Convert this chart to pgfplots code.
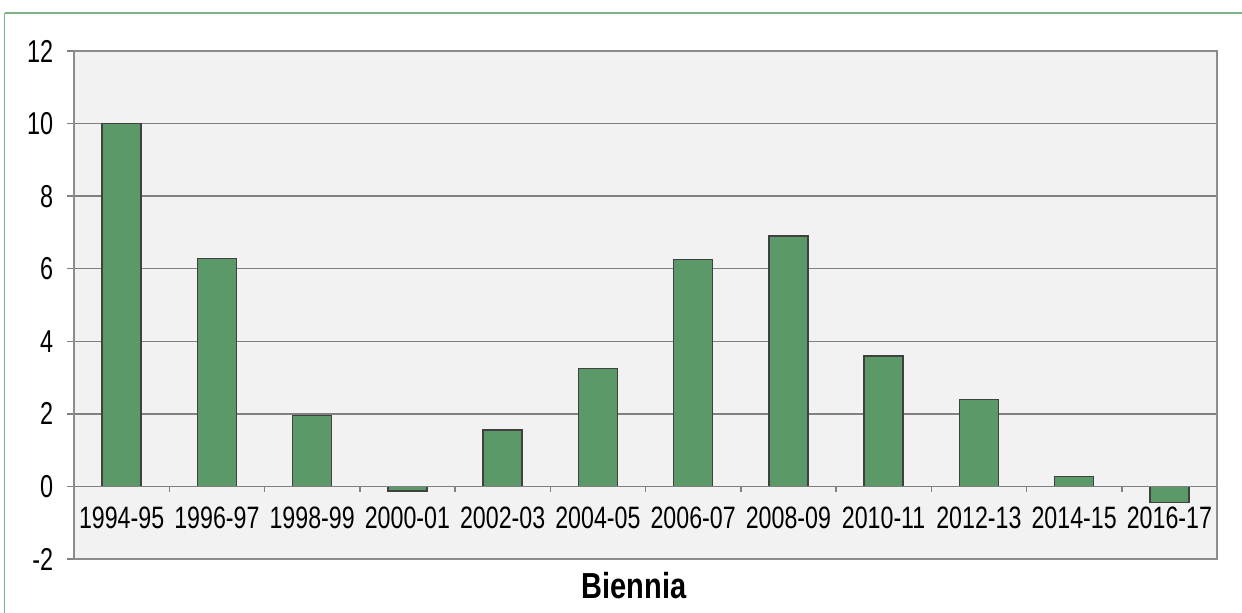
\documentclass[border=0pt]{standalone}
\usepackage{pgfplots}
\pgfplotsset{compat=1.18}
\usepackage{fontspec}
\setmainfont{Liberation Sans}
\definecolor{barg}{RGB}{92,153,104}
\definecolor{frameg}{RGB}{128,176,136}
\definecolor{plotbg}{RGB}{242,242,242}
\definecolor{gridc}{RGB}{128,128,128}
\definecolor{axc}{RGB}{140,140,140}
\definecolor{bard}{RGB}{64,64,64}
\newcommand\xl[1]{\scalebox{0.75}[1]{#1}}
\newcommand\yl[1]{\scalebox{0.74}[1]{#1}}
\begin{document}
\begin{tikzpicture}
\path[use as bounding box] (0,0) rectangle (124.2mm,61.3mm);
\fill[white] (0,0) rectangle (124.2mm,61.3mm);
\draw[frameg, line width=0.22mm] (0.5mm,60.0mm) -- (124.2mm,60.0mm);
\draw[frameg, line width=0.12mm] (0.45mm,0mm) -- (0.45mm,60.0mm);
\begin{axis}[
  at={(7.4mm,5.4mm)}, anchor=south west,
  scale only axis, width=114.3mm, height=50.8mm,
  xmin=-0.5, xmax=11.5, ymin=-2, ymax=12,
  axis background/.style={fill=plotbg},
  axis line style={axc, line width=0.16mm},
  ytick={-2,0,2,4,6,8,10,12},
  yticklabels={\yl{-2},\yl{0},\yl{2},\yl{4},\yl{6},\yl{8},\yl{10},\yl{12}},
  ymajorgrids, grid style={gridc, line width=0.15mm},
  tick align=outside, ytick pos=left,
  major tick length=0.7mm,
  ytick style={gridc, line width=0.15mm},
  yticklabel style={font=\fontsize{9}{10}\selectfont, anchor=east, xshift=-0.15mm},
  xtick={0,1,2,3,4,5,6,7,8,9,10,11},
  xticklabels={\xl{1994-95},\xl{1996-97},\xl{1998-99},\xl{2000-01},\xl{2002-03},\xl{2004-05},\xl{2006-07},\xl{2008-09},\xl{2010-11},\xl{2012-13},\xl{2014-15},\xl{2016-17}},
  xtick style={draw=none},
  xticklabel style={font=\fontsize{8.8}{10}\selectfont, anchor=center, yshift=4.8mm},
  xlabel={\scalebox{0.8}[1]{\bfseries Biennia}},
  xlabel style={font=\fontsize{10.3}{12}\selectfont, at={(axis description cs:0.49,0)}, anchor=north, yshift=-0.1mm},
]
\addplot[ybar, bar width=0.41, fill=barg, draw=bard, line width=0.15mm] coordinates {
(0,10.0) (1,6.28) (2,1.96) (3,-0.13) (4,1.55) (5,3.25)
(6,6.25) (7,6.90) (8,3.59) (9,2.40) (10,0.28) (11,-0.45)};
\draw[gridc, line width=0.15mm] (axis cs:-0.5,0) -- (axis cs:11.5,0);
\pgfplotsinvokeforeach{0.5,1.5,2.5,3.5,4.5,5.5,6.5,7.5,8.5,9.5,10.5}{
  \draw[gridc, line width=0.15mm] (axis cs:#1,0) -- ++(0pt,-0.6mm);
}
\end{axis}
\end{tikzpicture}
\end{document}
